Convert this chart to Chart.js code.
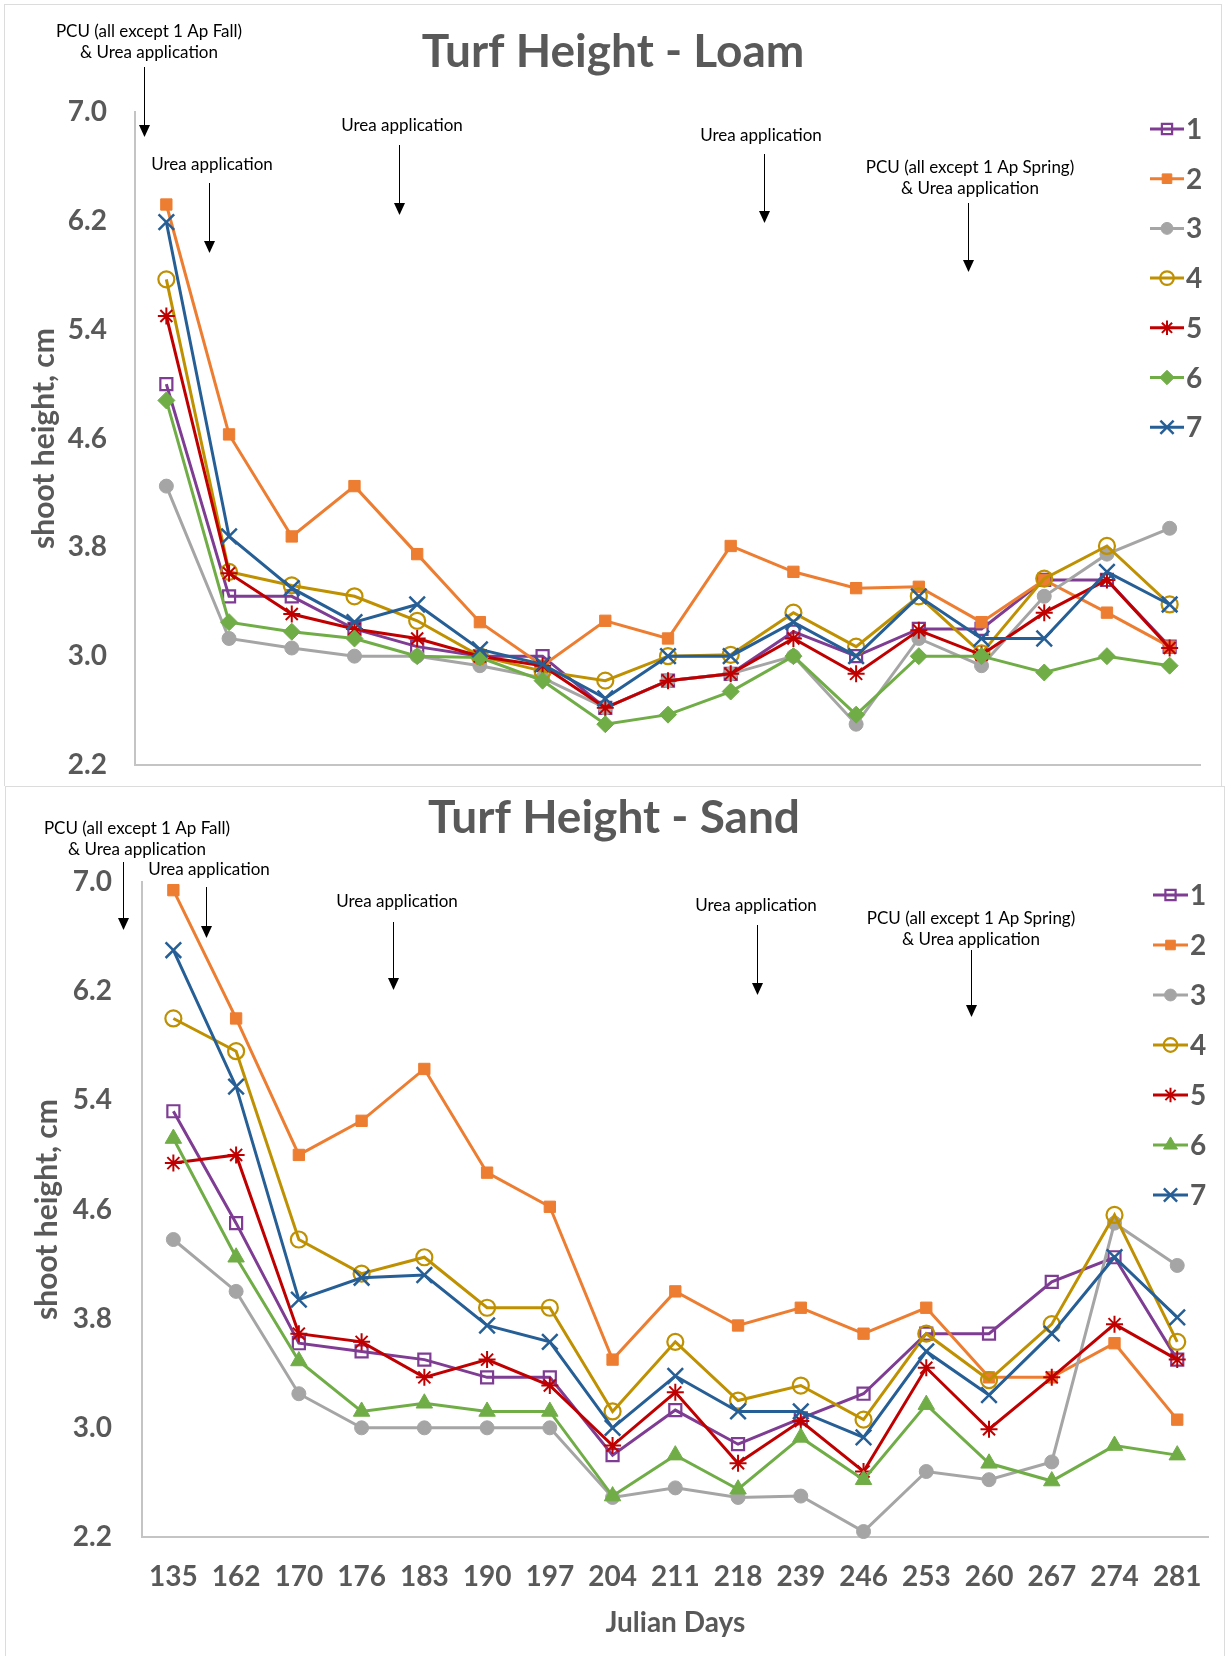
<!DOCTYPE html>
<html>
<head>
<meta charset="utf-8">
<title>Turf Height</title>
<script src="https://cdn.jsdelivr.net/npm/chart.js@4.4.1/dist/chart.umd.min.js"></script>
<style>
  body { margin: 0; background: #fff; width: 1225px; height: 1656px; position: relative; overflow: hidden; }
  .panel { position: absolute; left: 0; width: 1225px; }
  .frame { position: absolute; border: 1px solid #dcdcdc; border-bottom: none; pointer-events: none; }
</style>
</head>
<body>
<div class="frame" style="left:4px;top:4px;width:1216px;height:781px"></div>
<div class="frame" style="left:5px;top:786px;width:1218px;height:880px"></div>
<div class="panel" style="top:0;height:787px"><canvas id="loam"></canvas></div>
<div class="panel" style="top:787px;height:869px"><canvas id="sand"></canvas></div>

<script>
// x categories (Julian days) and y tick labels
const days = ['135', '162', '170', '176', '183', '190', '197', '204', '211', '218', '239', '246', '253', '260', '267', '274', '281'];
const yTickValues = [2.2, 3.0, 3.8, 4.6, 5.4, 6.2, 7.0];
const seriesNames = ['1', '2', '3', '4', '5', '6', '7'];

// Turf height - Loam
const loam1 = [5.00, 3.44, 3.44, 3.20, 3.07, 3.00, 3.00, 2.62, 2.82, 2.87, 3.18, 3.00, 3.20, 3.20, 3.56, 3.56, 3.07];
const loam2 = [6.32, 4.63, 3.88, 4.25, 3.75, 3.25, 2.93, 3.26, 3.13, 3.81, 3.62, 3.50, 3.51, 3.25, 3.56, 3.32, 3.07];
const loam3 = [4.25, 3.13, 3.06, 3.00, 3.00, 2.93, 2.84, 2.62, 2.82, 2.87, 3.00, 2.50, 3.13, 2.93, 3.44, 3.75, 3.94];
const loam4 = [5.77, 3.62, 3.52, 3.44, 3.26, 3.00, 2.89, 2.82, 3.00, 3.01, 3.32, 3.07, 3.44, 3.02, 3.57, 3.81, 3.38];
const loam5 = [5.50, 3.61, 3.31, 3.20, 3.13, 3.00, 2.93, 2.62, 2.82, 2.87, 3.13, 2.87, 3.19, 3.01, 3.32, 3.56, 3.06];
const loam6 = [4.88, 3.25, 3.18, 3.13, 3.00, 2.99, 2.82, 2.50, 2.57, 2.74, 3.00, 2.57, 3.00, 3.00, 2.88, 3.00, 2.93];
const loam7 = [6.19, 3.88, 3.50, 3.25, 3.38, 3.05, 2.94, 2.69, 3.00, 3.00, 3.25, 3.00, 3.44, 3.13, 3.13, 3.62, 3.38];

// Turf height - Sand
const sand1 = [5.32, 4.50, 3.62, 3.56, 3.50, 3.37, 3.37, 2.80, 3.13, 2.88, 3.07, 3.25, 3.69, 3.69, 4.07, 4.25, 3.50];
const sand2 = [6.94, 6.00, 5.00, 5.25, 5.63, 4.87, 4.62, 3.50, 4.00, 3.75, 3.88, 3.69, 3.88, 3.37, 3.37, 3.62, 3.06];
const sand3 = [4.38, 4.00, 3.25, 3.00, 3.00, 3.00, 3.00, 2.49, 2.56, 2.49, 2.50, 2.24, 2.68, 2.62, 2.75, 4.50, 4.19];
const sand4 = [6.00, 5.76, 4.38, 4.13, 4.25, 3.88, 3.88, 3.12, 3.63, 3.20, 3.31, 3.06, 3.69, 3.35, 3.76, 4.56, 3.63];
const sand5 = [4.94, 5.00, 3.69, 3.63, 3.37, 3.50, 3.31, 2.87, 3.26, 2.74, 3.05, 2.68, 3.44, 2.99, 3.37, 3.76, 3.50];
const sand6 = [5.12, 4.25, 3.49, 3.12, 3.18, 3.12, 3.12, 2.50, 2.80, 2.55, 2.93, 2.62, 3.17, 2.74, 2.61, 2.87, 2.80];
const sand7 = [6.50, 5.50, 3.94, 4.10, 4.12, 3.75, 3.63, 3.00, 3.38, 3.12, 3.12, 2.93, 3.56, 3.24, 3.69, 4.25, 3.81];

const colors = ['#7E3C93', '#ED7D31', '#A5A5A5', '#BF9000', '#C00000', '#70AD47', '#265E96'];
const textGray = '#595959';
const axisGray = '#c4c4c4';
const font = 'Lato';

// marker look for each treatment
function markerFor(i, soil) {
    const none = 'rgba(0,0,0,0)';
    switch (i) {
        case 0: return { pointStyle: 'rect', pointRadius: 8.5, pointBackgroundColor: none, pointBorderWidth: 2.2 };
        case 1: return { pointStyle: 'rect', pointRadius: 8, pointBackgroundColor: colors[1], pointBorderWidth: 1 };
        case 2: return { pointStyle: 'circle', pointRadius: 7, pointBackgroundColor: colors[2], pointBorderWidth: 1 };
        case 3: return { pointStyle: 'circle', pointRadius: 8, pointBackgroundColor: none, pointBorderWidth: 2.2 };
        case 4: return { pointStyle: 'star', pointRadius: 8.5, pointBackgroundColor: colors[4], pointBorderWidth: 2 };
        case 5: return soil === 'loam'
            ? { pointStyle: 'rectRot', pointRadius: 8.5, pointBackgroundColor: colors[5], pointBorderWidth: 1 }
            : { pointStyle: 'triangle', pointRadius: 9.5, pointBackgroundColor: colors[5], pointBorderWidth: 1 };
        default: return { pointStyle: 'crossRot', pointRadius: 11, pointBackgroundColor: colors[6], pointBorderWidth: 2.5 };
    }
}

// legend drawn at the right, line + marker + number
const sideLegend = {
    id: 'sideLegend',
    afterDatasetsDraw(chart, args, opts) {
        const ctx = chart.ctx;
        ctx.save();
        chart.data.datasets.forEach(function (ds, i) {
            const y = opts.y0 + i * opts.dy;
            ctx.strokeStyle = ds.borderColor;
            ctx.lineWidth = 3;
            ctx.beginPath();
            ctx.moveTo(opts.x0, y);
            ctx.lineTo(opts.x0 + opts.len, y);
            ctx.stroke();
            ctx.fillStyle = ds.pointBackgroundColor;
            ctx.strokeStyle = ds.borderColor;
            ctx.lineWidth = ds.pointBorderWidth;
            Chart.helpers.drawPoint(ctx, {
                pointStyle: ds.pointStyle, radius: ds.pointRadius * 0.85,
                borderWidth: ds.pointBorderWidth, rotation: 0
            }, opts.x0 + opts.len / 2, y);
            ctx.fillStyle = textGray;
            ctx.font = 'bold 28px ' + font;
            ctx.textAlign = 'left';
            ctx.textBaseline = 'middle';
            ctx.fillText(ds.label, opts.x0 + opts.len + 2, y + 1);
        });
        ctx.restore();
    }
};

// chart title, the application arrows and (when the x scale is hidden) the base line
const notes = {
    id: 'notes',
    beforeDatasetsDraw(chart, args, opts) {
        if (!opts.baseLine) return;
        const a = chart.chartArea;
        const ctx = chart.ctx;
        ctx.save();
        ctx.strokeStyle = axisGray;
        ctx.lineWidth = 2;
        ctx.beginPath();
        ctx.moveTo(a.left, a.bottom);
        ctx.lineTo(a.right, a.bottom);
        ctx.stroke();
        ctx.restore();
    },
    afterDraw(chart, args, opts) {
        const ctx = chart.ctx;
        ctx.save();
        ctx.fillStyle = textGray;
        ctx.font = 'bold 46px ' + font;
        ctx.textAlign = 'center';
        ctx.textBaseline = 'alphabetic';
        ctx.fillText(opts.title, opts.titleX, opts.titleY);

        ctx.font = '17px ' + font;
        ctx.textBaseline = 'middle';
        ctx.fillStyle = '#000';
        ctx.strokeStyle = '#000';
        ctx.lineWidth = 1;
        opts.items.forEach(function (n) {
            n.lines.forEach(function (t, k) { ctx.fillText(t, n.tx, n.ty + k * 21); });
            ctx.beginPath();
            ctx.moveTo(n.ax + 0.5, n.a0);
            ctx.lineTo(n.ax + 0.5, n.a1 - 10);
            ctx.stroke();
            ctx.beginPath();
            ctx.moveTo(n.ax - 5, n.a1 - 12);
            ctx.lineTo(n.ax + 6, n.a1 - 12);
            ctx.lineTo(n.ax + 0.5, n.a1);
            ctx.closePath();
            ctx.fill();
        });
        ctx.restore();
    }
};

function makeChart(canvasId, soil, series, cfg) {
    const ctx = document.getElementById(canvasId).getContext('2d');
    const datasets = series.map(function (vals, i) {
        return Object.assign({
            label: seriesNames[i],
            data: vals,
            borderColor: colors[i],
            pointBorderColor: colors[i],
            borderWidth: 3,
            tension: 0,
            clip: false,
            order: 7 - i
        }, markerFor(i, soil));
    });

    const xScale = {
        type: 'category',
        offset: true,
        display: cfg.showX,
        grid: { display: false, drawTicks: false },
        border: { display: true, color: axisGray, width: 2 },
        ticks: {
            color: textGray,
            font: { family: font, size: 28, weight: 'bold' },
            padding: 23,
            maxRotation: 0,
            autoSkip: false
        },
        title: {
            display: true,
            text: 'Julian Days',
            color: textGray,
            font: { family: font, size: 28, weight: 'bold' },
            padding: { top: 0, bottom: 16 }
        }
    };
    if (cfg.showX) xScale.afterFit = function (s) { s.height = cfg.xHeight; };

    return new Chart(ctx, {
        type: 'line',
        data: { labels: days, datasets: datasets },
        plugins: [sideLegend, notes],
        options: {
            responsive: true,
            maintainAspectRatio: false,
            animation: false,
            events: [],
            layout: { padding: cfg.padding },
            plugins: {
                legend: { display: false },
                tooltip: { enabled: false },
                title: { display: false },
                sideLegend: cfg.legend,
                notes: cfg.notes
            },
            scales: {
                x: xScale,
                y: {
                    min: 2.2,
                    max: 7.0,
                    // tick marks are not drawn (grid hidden); tickLength only spaces the labels
                    grid: { display: false, drawTicks: true, tickLength: cfg.yPad },
                    border: { display: true, color: axisGray, width: 2 },
                    afterBuildTicks: function (s) { s.ticks = yTickValues.map(function (v) { return { value: v }; }); },
                    ticks: {
                        color: textGray,
                        font: { family: font, size: 28, weight: 'bold' },
                        padding: 0,
                        callback: function (v) { return Number(v).toFixed(1); }
                    },
                    title: {
                        display: true,
                        text: 'shoot height, cm',
                        color: textGray,
                        font: { family: font, size: 30, weight: 'bold' },
                        padding: { top: cfg.yTitlePad, bottom: 0 }
                    },
                    afterFit: function (s) { s.width = cfg.yWidth; }
                }
            }
        }
    });
}

document.addEventListener('DOMContentLoaded', function () {
    makeChart('loam', 'loam', [loam1, loam2, loam3, loam4, loam5, loam6, loam7], {
        padding: { top: 112, right: 24, bottom: 22, left: 0 },
        showX: false,
        yWidth: 135,
        yPad: 28,
        yTitlePad: 26,
        legend: { x0: 1150, len: 34, y0: 129, dy: 49.7 },
        notes: {
            title: 'Turf Height - Loam', titleX: 613, titleY: 67, baseLine: true,
            items: [
                { lines: ['PCU (all except 1 Ap Fall)', '& Urea application'], tx: 149, ty: 32, ax: 144, a0: 67, a1: 137 },
                { lines: ['Urea application'], tx: 212, ty: 165, ax: 209, a0: 183, a1: 253 },
                { lines: ['Urea application'], tx: 402, ty: 126, ax: 399, a0: 145, a1: 215 },
                { lines: ['Urea application'], tx: 761, ty: 136, ax: 764, a0: 154, a1: 223 },
                { lines: ['PCU (all except 1 Ap Spring)', '& Urea application'], tx: 970, ty: 168, ax: 968, a0: 203, a1: 272 }
            ]
        }
    });

    makeChart('sand', 'sand', [sand1, sand2, sand3, sand4, sand5, sand6, sand7], {
        padding: { top: 95, right: 13, bottom: 0, left: 0 },
        showX: true,
        xHeight: 119,
        yWidth: 142,
        yPad: 30,
        yTitlePad: 29,
        legend: { x0: 1153, len: 35, y0: 108, dy: 50 },
        notes: {
            title: 'Turf Height - Sand', titleX: 614, titleY: 46, baseLine: false,
            items: [
                { lines: ['PCU (all except 1 Ap Fall)', '& Urea application'], tx: 137, ty: 42, ax: 123, a0: 75, a1: 143 },
                { lines: ['Urea application'], tx: 209, ty: 83, ax: 206, a0: 100, a1: 151 },
                { lines: ['Urea application'], tx: 397, ty: 115, ax: 393, a0: 135, a1: 203 },
                { lines: ['Urea application'], tx: 756, ty: 119, ax: 757, a0: 138, a1: 208 },
                { lines: ['PCU (all except 1 Ap Spring)', '& Urea application'], tx: 971, ty: 132, ax: 971, a0: 163, a1: 230 }
            ]
        }
    });
});
</script>
</body>
</html>
